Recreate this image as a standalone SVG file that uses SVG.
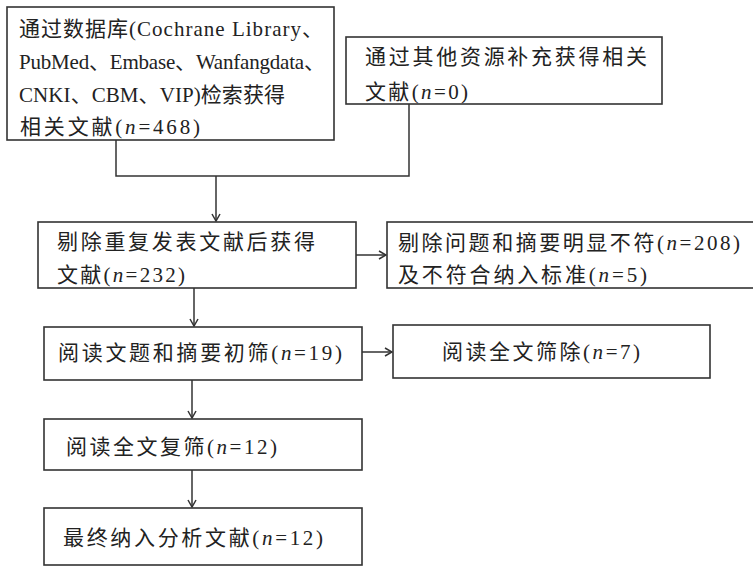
<svg xmlns="http://www.w3.org/2000/svg" width="753" height="568" viewBox="0 0 753 568">
<style>
.box{fill:#fff;stroke:#333;stroke-width:1.6}
.t{font-family:"Liberation Serif","Noto Sans CJK SC",serif;font-size:21px;fill:#222}
.c{fill:none;stroke:#333;stroke-width:1.5}
</style>
<defs>
<marker id="ah" viewBox="0 0 10 10" refX="9" refY="5" markerWidth="10" markerHeight="10" markerUnits="userSpaceOnUse" orient="auto">
<path d="M2,1 L9,5 L2,9" fill="none" stroke="#333" stroke-width="1.5"/>
</marker>
</defs>
<rect width="753" height="568" fill="#fff"/>
<g id="connectors">
<path class="c" d="M116,140 V176 H409 V104"/>
<path class="c" d="M216,176 V221" marker-end="url(#ah)"/>
<path class="c" d="M356,255 H386" marker-end="url(#ah)"/>
<path class="c" d="M194,288 V326" marker-end="url(#ah)"/>
<path class="c" d="M362,352 H392" marker-end="url(#ah)"/>
<path class="c" d="M192,380 V418" marker-end="url(#ah)"/>
<path class="c" d="M192,470 V507" marker-end="url(#ah)"/>
</g>
<g id="n1">
<rect class="box" x="7" y="7" width="327" height="133"/>
<text class="t" x="19" y="36" textLength="304" lengthAdjust="spacing">通过数据库(Cochrane Library、</text>
<text class="t" x="19" y="69" textLength="306" lengthAdjust="spacing">PubMed、Embase、Wanfangdata、</text>
<text class="t" x="19" y="102" textLength="266" lengthAdjust="spacing">CNKI、CBM、VIP)检索获得</text>
<text class="t" x="20" y="134" textLength="180" lengthAdjust="spacing">相关文献(<tspan font-style="italic">n</tspan>=468)</text>
</g>
<g id="n2">
<rect class="box" x="346" y="37" width="316" height="67"/>
<text class="t" x="365" y="64" textLength="282" lengthAdjust="spacing">通过其他资源补充获得相关</text>
<text class="t" x="365" y="99" textLength="103" lengthAdjust="spacing">文献(<tspan font-style="italic">n</tspan>=0)</text>
</g>
<g id="n3">
<rect class="box" x="38" y="222" width="318" height="66"/>
<text class="t" x="57" y="249" textLength="258" lengthAdjust="spacing">剔除重复发表文献后获得</text>
<text class="t" x="57" y="282" textLength="128" lengthAdjust="spacing">文献(<tspan font-style="italic">n</tspan>=232)</text>
</g>
<g id="n4">
<rect class="box" x="387" y="222" width="380" height="66"/>
<text class="t" x="398" y="250" textLength="342" lengthAdjust="spacing">剔除问题和摘要明显不符(<tspan font-style="italic">n</tspan>=208)</text>
<text class="t" x="398" y="282" textLength="249" lengthAdjust="spacing">及不符合纳入标准(<tspan font-style="italic">n</tspan>=5)</text>
</g>
<g id="n5">
<rect class="box" x="44" y="327" width="318" height="53"/>
<text class="t" x="58" y="360" textLength="284" lengthAdjust="spacing">阅读文题和摘要初筛(<tspan font-style="italic">n</tspan>=19)</text>
</g>
<g id="n6">
<rect class="box" x="393" y="325" width="317" height="53"/>
<text class="t" x="442" y="359" textLength="198" lengthAdjust="spacing">阅读全文筛除(<tspan font-style="italic">n</tspan>=7)</text>
</g>
<g id="n7">
<rect class="box" x="44" y="419" width="318" height="51"/>
<text class="t" x="66" y="454" textLength="211" lengthAdjust="spacing">阅读全文复筛(<tspan font-style="italic">n</tspan>=12)</text>
</g>
<g id="n8">
<rect class="box" x="44" y="508" width="318" height="57"/>
<text class="t" x="63" y="545" textLength="260" lengthAdjust="spacing">最终纳入分析文献(<tspan font-style="italic">n</tspan>=12)</text>
</g>
</svg>
